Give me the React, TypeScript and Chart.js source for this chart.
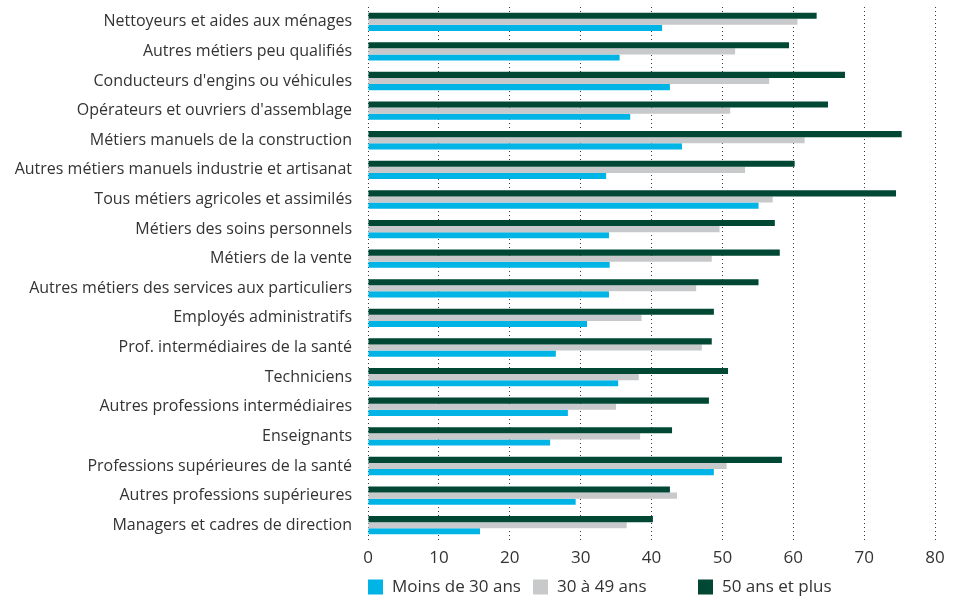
import React, { useEffect, useRef } from "react";
import { Chart, registerables } from "chart.js";

Chart.register(...registerables);

const categories = [
  "Nettoyeurs et aides aux ménages",
  "Autres métiers peu qualifiés",
  "Conducteurs d'engins ou véhicules",
  "Opérateurs et ouvriers d'assemblage",
  "Métiers manuels de la construction",
  "Autres métiers manuels industrie et artisanat",
  "Tous métiers agricoles et assimilés",
  "Métiers des soins personnels",
  "Métiers de la vente",
  "Autres métiers des services aux particuliers",
  "Employés administratifs",
  "Prof. intermédiaires de la santé",
  "Techniciens",
  "Autres professions intermédiaires",
  "Enseignants",
  "Professions supérieures de la santé",
  "Autres professions supérieures",
  "Managers et cadres de direction",
];

const moins30 = [41.5, 35.5, 42.6, 37.0, 44.3, 33.6, 55.1, 34.0, 34.1, 34.0, 30.9, 26.5, 35.3, 28.2, 25.7, 48.8, 29.3, 15.8];
const de30a49 = [60.6, 51.8, 56.6, 51.1, 61.6, 53.2, 57.1, 49.6, 48.5, 46.3, 38.6, 47.1, 38.2, 35.0, 38.4, 50.6, 43.6, 36.5];
const plus50 = [63.3, 59.4, 67.3, 64.9, 75.3, 60.2, 74.5, 57.4, 58.1, 55.1, 48.8, 48.5, 50.8, 48.1, 42.9, 58.4, 42.6, 40.2];

const xTicks = [0, 10, 20, 30, 40, 50, 60, 70, 80];

const seriesLabels = ["Moins de 30 ans", "30 à 49 ans", "50 ans et plus"];
const seriesColors = ["#00b4e6", "#c8c9ca", "#004833"];

const FONT = "'Open Sans', 'Noto Sans', sans-serif";

const legendPlugin = {
  id: "customLegend",
  afterDraw(chart: any) {
    const ctx = chart.ctx;
    const left = chart.chartArea.left;
    const cy = chart.height - 14;
    ctx.save();
    ctx.font = `17px ${FONT}`;
    ctx.textBaseline = "middle";
    ctx.textAlign = "left";
    seriesLabels.forEach((label, i) => {
      const x = left + i * 165;
      ctx.fillStyle = seriesColors[i];
      ctx.fillRect(x, cy - 7.5, 15, 15);
      ctx.fillStyle = "#333333";
      ctx.fillText(label, x + 24, cy);
    });
    ctx.restore();
  },
};

export default function App() {
  const ref = useRef<HTMLCanvasElement | null>(null);

  useEffect(() => {
    document.body.style.margin = "0";
    if (!ref.current) return;
    const chart = new Chart(ref.current, {
      type: "bar",
      data: {
        labels: categories,
        datasets: [
          { label: seriesLabels[2], data: plus50, backgroundColor: seriesColors[2] },
          { label: seriesLabels[1], data: de30a49, backgroundColor: seriesColors[1] },
          { label: seriesLabels[0], data: moins30, backgroundColor: seriesColors[0] },
        ],
      },
      options: {
        indexAxis: "y",
        animation: false,
        responsive: false,
        maintainAspectRatio: false,
        layout: { padding: { top: 7, right: 18, left: 0, bottom: 0 } },
        datasets: {
          bar: { categoryPercentage: 0.62, barPercentage: 1.0 },
        },
        plugins: {
          legend: { display: false },
          tooltip: { enabled: false },
        },
        scales: {
          x: {
            min: 0,
            max: 80,
            afterBuildTicks(scale: any) {
              scale.ticks = xTicks.map((v) => ({ value: v }));
            },
            afterFit(scale: any) {
              scale.height = 61;
              scale.paddingRight = 0;
              scale.paddingLeft = 0;
            },
            grid: {
              color: "#3a3a3a",
              lineWidth: 1,
              drawTicks: false,
            },
            border: { display: false, dash: [1, 3] },
            ticks: {
              padding: 8,
              color: "#333333",
              font: { family: FONT, size: 17 },
            },
          },
          y: {
            afterFit(scale: any) {
              scale.width = 368;
              scale.paddingTop = 0;
              scale.paddingBottom = 0;
            },
            grid: { display: false, drawTicks: false },
            border: { display: false },
            ticks: {
              padding: 16,
              color: "#333333",
              font: { family: FONT, size: 16 },
              autoSkip: false,
            },
          },
        },
      },
      plugins: [legendPlugin],
    } as any);
    return () => chart.destroy();
  }, []);

  return (
    <div style={{ width: 953, height: 601 }}>
      <canvas ref={ref} width={953} height={601} style={{ width: 953, height: 601, display: "block" }} />
    </div>
  );
}
